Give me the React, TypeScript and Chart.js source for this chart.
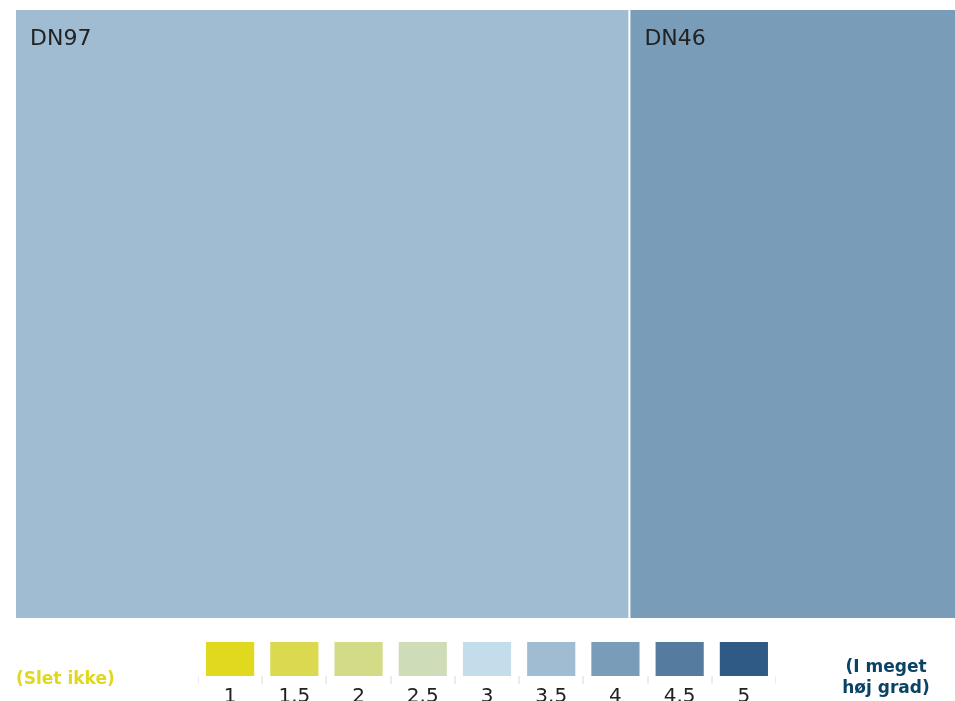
import React, { useEffect, useRef } from "react";
import { Chart, registerables } from "chart.js";
Chart.register(...registerables);

const treeLabels = ["DN97", "DN46"];
const treeValues = [15, 8];
const treeColors = ["#9FBCD2", "#799CB8"];

const scaleLabels = ["1", "1.5", "2", "2.5", "3", "3.5", "4", "4.5", "5"];
const scaleColors = ["#E1D91E", "#DAD94F", "#D4DB86", "#CEDCB8", "#C4DDEA", "#9FBCD2", "#799CB8", "#557B9E", "#2E5A85"];
const scaleBarValues = [1, 1, 1, 1, 1, 1, 1, 1, 1];

const lowLabel = "(Slet ikke)";
const highLabel = ["(I meget", "høj grad)"];

const FONT = "'DejaVu Sans', Verdana, sans-serif";

const labelPlugin = {
  id: "tileLabels",
  afterDatasetsDraw(chart: any) {
    const ctx = chart.ctx;
    ctx.save();
    ctx.font = `22px ${FONT}`;
    ctx.fillStyle = "#222222";
    ctx.textAlign = "left";
    ctx.textBaseline = "middle";
    chart.data.datasets.forEach((ds: any, i: number) => {
      const meta = chart.getDatasetMeta(i);
      meta.data.forEach((bar: any) => {
        const left = Math.min(bar.x, bar.base);
        const top = bar.y - bar.height / 2;
        ctx.fillText(ds.label, left + 14 + (i > 0 ? 2 : 0), top + 29);
      });
    });
    ctx.restore();
  },
};

export default function App() {
  const treeRef = useRef<HTMLCanvasElement>(null);
  const legRef = useRef<HTMLCanvasElement>(null);

  useEffect(() => {
    const total = treeValues.reduce((a, b) => a + b, 0);
    const tree = new Chart(treeRef.current!, {
      type: "bar",
      data: {
        labels: ["all"],
        datasets: treeLabels.map((l, i) => ({
          label: l,
          data: [treeValues[i]],
          backgroundColor: treeColors[i],
          borderColor: "#ffffff",
          borderWidth: i === 0 ? 0 : { left: 2, right: 0, top: 0, bottom: 0 },
          borderSkipped: false,
          inflateAmount: 0,
          barPercentage: 1,
          categoryPercentage: 1,
        })),
      },
      options: {
        indexAxis: "y",
        animation: false,
        responsive: false,
        maintainAspectRatio: false,
        layout: { padding: { left: 16, top: 10, right: 0, bottom: 83 } },
        plugins: { legend: { display: false }, tooltip: { enabled: false } },
        scales: {
          x: { stacked: true, min: 0, max: total, display: false },
          y: { stacked: true, display: false },
        },
      },
      plugins: [labelPlugin],
    } as any);

    const leg = new Chart(legRef.current!, {
      type: "bar",
      data: {
        labels: scaleLabels,
        datasets: [
          {
            data: scaleBarValues,
            backgroundColor: scaleColors,
            barPercentage: 0.75,
            categoryPercentage: 1,
          },
        ],
      },
      options: {
        animation: false,
        responsive: false,
        maintainAspectRatio: false,
        layout: { padding: { left: 0, top: 22, right: 0, bottom: 0 } },
        plugins: { legend: { display: false }, tooltip: { enabled: false } },
        scales: {
          y: { min: 0, max: 1, display: false },
          x: {
            border: { display: false },
            grid: {
              offset: true,
              drawOnChartArea: false,
              drawTicks: true,
              tickLength: 8,
              color: "#ececec",
              lineWidth: 2,
            },
            ticks: {
              padding: 1,
              color: "#222222",
              font: { family: FONT, size: 20 },
              maxRotation: 0,
            },
          },
        },
      },
    } as any);

    return () => {
      tree.destroy();
      leg.destroy();
    };
  }, []);

  return (
    <div style={{ position: "relative", width: 955, height: 701, overflow: "hidden" }}>
      <style>{`body{margin:0;overflow:hidden;}`}</style>
      <canvas
        ref={treeRef}
        width={955}
        height={701}
        style={{ position: "absolute", left: 0, top: 0, width: 955, height: 701 }}
      />
      <canvas
        ref={legRef}
        width={578}
        height={90}
        style={{ position: "absolute", left: 198, top: 620, width: 578, height: 90 }}
      />
      <div
        style={{
          position: "absolute",
          left: 16,
          top: 667,
          fontFamily: FONT,
          fontWeight: "bold",
          fontSize: 17,
          lineHeight: "22px",
          color: "#E0D81F",
          whiteSpace: "nowrap",
        }}
      >
        {lowLabel}
      </div>
      <div
        style={{
          position: "absolute",
          left: 816,
          width: 140,
          top: 656,
          fontFamily: FONT,
          fontWeight: "bold",
          fontSize: 17,
          lineHeight: "21px",
          color: "#0B4366",
          textAlign: "center",
          whiteSpace: "nowrap",
        }}
      >
        {highLabel.map((t) => (
          <div key={t}>{t}</div>
        ))}
      </div>
    </div>
  );
}
